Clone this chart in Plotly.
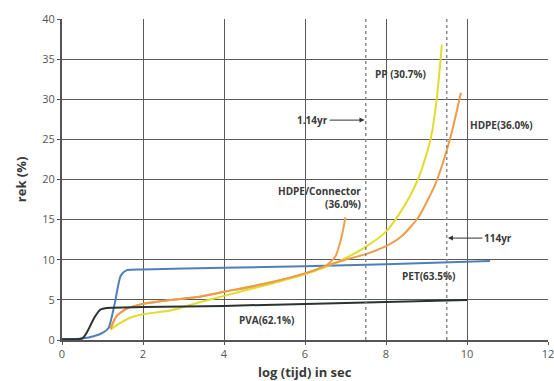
import plotly.graph_objects as go

# ---- data ----
pva_x = [0, 0.5, 0.62, 0.8, 0.95, 1.1, 2.0, 4.0, 6.0, 8.0, 10.0]
pva_y = [0.1, 0.2, 1.0, 2.8, 3.8, 4.0, 4.1, 4.25, 4.5, 4.75, 5.0]

pet_x = [0, 0.5, 0.8, 1.0, 1.15, 1.3, 1.45, 1.6, 2.0, 4.0, 6.0, 8.0, 10.57]
pet_y = [0.1, 0.2, 0.5, 0.9, 1.5, 4.5, 8.0, 8.7, 8.8, 9.0, 9.2, 9.45, 9.85]

hdpe_x = [1.2, 1.35, 1.6, 2.0, 2.7, 3.4, 4.0, 5.0, 6.0, 6.5, 7.0, 7.5, 8.0, 8.4, 8.8, 9.2, 9.4, 9.62, 9.85]
hdpe_y = [1.4, 3.0, 3.9, 4.5, 5.0, 5.4, 6.0, 7.0, 8.3, 9.2, 10.0, 10.7, 11.7, 13.0, 15.3, 19.2, 22.0, 25.8, 30.8]

pp_x = [1.2, 1.4, 1.7, 2.0, 2.7, 3.4, 4.0, 5.0, 6.0, 6.5, 7.0, 7.5, 8.0, 8.3, 8.6, 8.85, 9.1, 9.25, 9.38]
pp_y = [1.3, 2.0, 2.8, 3.2, 3.7, 4.7, 5.5, 6.8, 8.2, 9.1, 10.2, 11.6, 13.5, 15.5, 18.0, 20.8, 25.0, 29.9, 36.8]

con_x = [1.2, 1.35, 1.6, 2.0, 2.7, 3.4, 4.0, 5.0, 6.0, 6.5, 6.75, 6.9, 7.0]
con_y = [1.4, 3.0, 3.9, 4.5, 5.0, 5.4, 6.0, 7.0, 8.3, 9.2, 10.4, 12.8, 15.3]

ref_lines_x = [7.5, 9.5]
x_ticks = [0, 2, 4, 6, 8, 10, 12]
y_ticks = [0, 5, 10, 15, 20, 25, 30, 35, 40]

series = [
    ("PET", pet_x, pet_y, "#4f7fb8"),
    ("HDPE/Connector", con_x, con_y, "#eea04c"),
    ("PP", pp_x, pp_y, "#e2dc2e"),
    ("HDPE", hdpe_x, hdpe_y, "#ee9c48"),
    ("PVA", pva_x, pva_y, "#2b3232"),
]

fig = go.Figure()
for name, xs, ys, col in series:
    fig.add_trace(go.Scatter(x=xs, y=ys, mode="lines", name=name,
                             line=dict(color=col, width=2, shape="spline", smoothing=0.6),
                             showlegend=False, hoverinfo="skip"))

for xv in ref_lines_x:
    fig.add_shape(type="line", x0=xv, x1=xv, y0=0, y1=40, xref="x", yref="y",
                  line=dict(color="#8a8a8a", width=1.5, dash="dot"))

tf = dict(family="Open Sans, DejaVu Sans, sans-serif", size=10, color="#3a3a3a")
labels = [
    ("PP (30.7%)", 8.37, 33.2, "center"),
    ("HDPE(36.0%)", 10.84, 26.8, "center"),
    ("PET(63.5%)", 9.04, 8.0, "center"),
    ("PVA(62.1%)", 5.06, 2.5, "center"),
]
for t, x, y, xa in labels:
    fig.add_annotation(x=x, y=y, text="<b>" + t + "</b>", showarrow=False, font=tf, xanchor=xa)

fig.add_annotation(x=7.43, y=17.7, text="<b>HDPE/Connector<br>(36.0%)</b>", showarrow=False,
                   font=tf, xanchor="right", align="right")

fig.add_annotation(x=7.47, y=27.4, text="<b>1.14yr</b>", showarrow=True, ax=-52, ay=0,
                   arrowhead=2, arrowsize=1, arrowwidth=1, arrowcolor="#333", font=tf)
fig.add_annotation(x=9.53, y=12.7, text="<b>114yr</b>", showarrow=True, ax=50, ay=0,
                   arrowhead=2, arrowsize=1, arrowwidth=1, arrowcolor="#333", font=tf)

# axis titles as paper annotations
fig.add_annotation(xref="paper", yref="paper", x=0.5, y=-0.066, yanchor="top",
                   text="<b>log (tijd) in sec</b>", showarrow=False,
                   font=dict(family="Open Sans, DejaVu Sans, sans-serif", size=13, color="#3a3a3a"))
fig.add_annotation(xref="paper", yref="paper", x=-0.085, y=0.5, xanchor="center",
                   text="<b>rek (%)</b>", showarrow=False, textangle=-90,
                   font=dict(family="Open Sans, DejaVu Sans, sans-serif", size=13, color="#3a3a3a"))

fig.update_layout(
    width=554, height=381,
    margin=dict(l=62, r=6, t=19, b=41),
    paper_bgcolor="white", plot_bgcolor="white",
    font=dict(family="Open Sans, DejaVu Sans, sans-serif", color="#444"),
)
fig.update_xaxes(range=[0, 12], tickvals=x_ticks, showgrid=True, gridcolor="#5a5a5a", gridwidth=1.3,
                 showline=True, linecolor="#555", linewidth=2, zeroline=False, automargin=False,
                 ticks="outside", ticklen=3, tickcolor="#555", ticklabeloverflow="allow",
                 tickfont=dict(size=11, color="#555"))
fig.update_yaxes(range=[0, 40], tickvals=y_ticks, showgrid=True, gridcolor="#5a5a5a", gridwidth=1.3,
                 showline=True, linecolor="#555", linewidth=2, zeroline=False, automargin=False,
                 ticks="outside", ticklen=3, tickcolor="#555",
                 tickfont=dict(size=11, color="#555"))

fig.write_html("out.html", config={"displayModeBar": False},
               post_script="document.body.style.margin='0';document.body.style.overflow='hidden';")
